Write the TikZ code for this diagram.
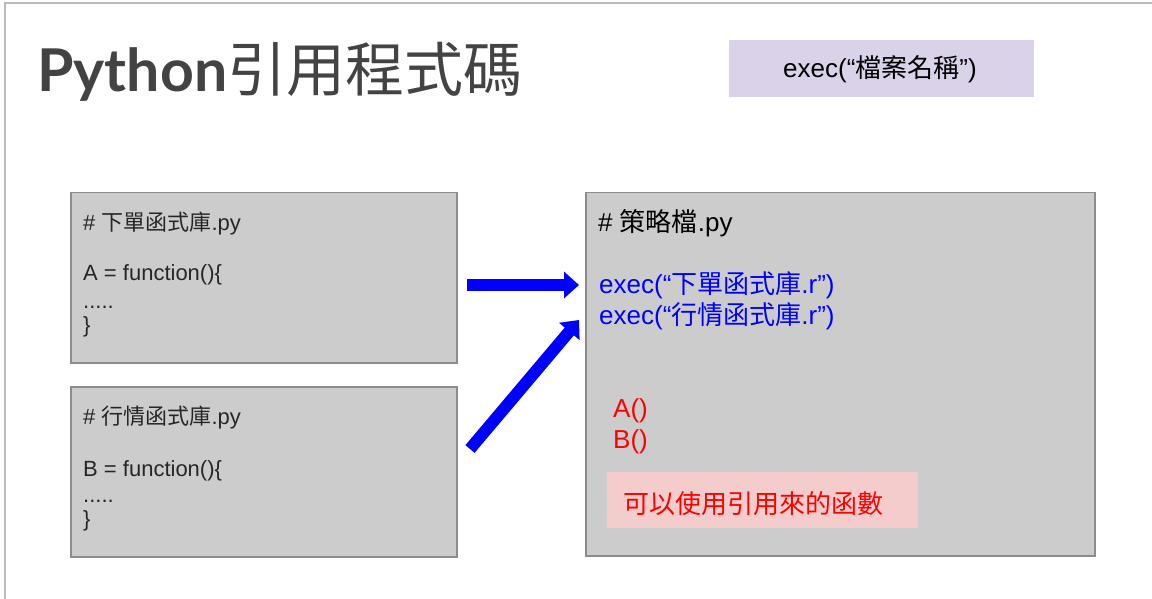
\documentclass[tikz,border=0pt]{standalone}
\usepackage{fontspec}
\setmainfont{Liberation Sans}
\newfontfamily\cjk{Noto Sans CJK TC}
\newfontfamily\lato{Lato}
\newcommand\zh[1]{{\cjk #1}}
\usetikzlibrary{arrows.meta}
\definecolor{boxgray}{HTML}{CCCCCC}
\definecolor{boxline}{HTML}{8C8C8C}
\definecolor{framegray}{HTML}{BBBBBB}
\definecolor{titlegray}{HTML}{434343}
\definecolor{lavender}{HTML}{D9D2E9}
\definecolor{pink}{HTML}{F4CCCC}
\definecolor{codeblue}{HTML}{0000FF}
\definecolor{codered}{HTML}{FF0000}
\tikzset{
  codebox/.style={draw=boxline, fill=boxgray, line width=1.5pt, anchor=north west, inner sep=0pt},
  flatbox/.style={anchor=north west, inner sep=0pt, draw=none},
  txt/.style={anchor=base west, inner sep=0pt, font=\fontsize{22}{26}\selectfont, text=black!85},
  big/.style={anchor=base west, inner sep=0pt, font=\fontsize{26}{31}\selectfont},
  fatarrow/.style={draw=codeblue, line width=12pt, -{Triangle[length=15pt,width=26pt]}}
}
\begin{document}
\begin{tikzpicture}[x=1pt,y=-1pt]
\useasboundingbox (0,0) rectangle (1152,599);
\fill[white] (0,0) rectangle (1152,599);
\draw[framegray, line width=1.5pt] (5,599) -- (5,3) -- (1152,3);

% title
\node[anchor=base west, inner sep=0pt, text=titlegray, font=\fontsize{59}{66}\selectfont] (title) at (37,92) {{\lato\bfseries Python}\zh{引用程式碼}};

% exec box
\node[flatbox, fill=lavender, minimum width=305pt, minimum height=57pt] (execbox) at (729,40) {};
\node[big, text=black] (exectxt) at (783,78) {exec(“\zh{檔案名稱}”)};

% left box 1
\node[codebox, minimum width=386pt, minimum height=170pt] (lib1) at (70,192) {};
\node[txt] (l1a) at (83,230) {\# \zh{下單函式庫}.py};
\node[txt] (l1b) at (83,280) {A = function()\{};
\node[txt] (l1c) at (83,308) {.....};
\node[txt] (l1d) at (83,332) {\}};

% left box 2
\node[codebox, minimum width=386pt, minimum height=170pt] (lib2) at (70,386) {};
\node[txt] (l2a) at (83,424) {\# \zh{行情函式庫}.py};
\node[txt] (l2b) at (83,476) {B = function()\{};
\node[txt] (l2c) at (83,502) {.....};
\node[txt] (l2d) at (83,526) {\}};

% strategy box
\node[codebox, minimum width=509pt, minimum height=363pt] (strat) at (585,192) {};
\node[big, text=black] (s1) at (598,232) {\# \zh{策略檔}.py};
\node[big, text=codeblue] (s2) at (599,293) {exec(“\zh{下單函式庫}.r”)};
\node[big, text=codeblue] (s3) at (599,324) {exec(“\zh{行情函式庫}.r”)};
\node[big, text=codered] (s4) at (613,417) {A()};
\node[big, text=codered] (s5) at (613,448) {B()};
\node[flatbox, fill=pink, minimum width=311pt, minimum height=56pt] (note) at (607,472) {};
\node[big, text=codered] (notetxt) at (623,513) {\zh{可以使用引用來的函數}};

% arrows
\coordinate (a1s) at (467,285);
\coordinate (a1e) at (579,285);
\coordinate (a2s) at (470,449);
\coordinate (a2e) at (579,320);
\draw[fatarrow] (a1s) -- (a1e);
\draw[fatarrow] (a2s) -- (a2e);
\end{tikzpicture}
\end{document}
